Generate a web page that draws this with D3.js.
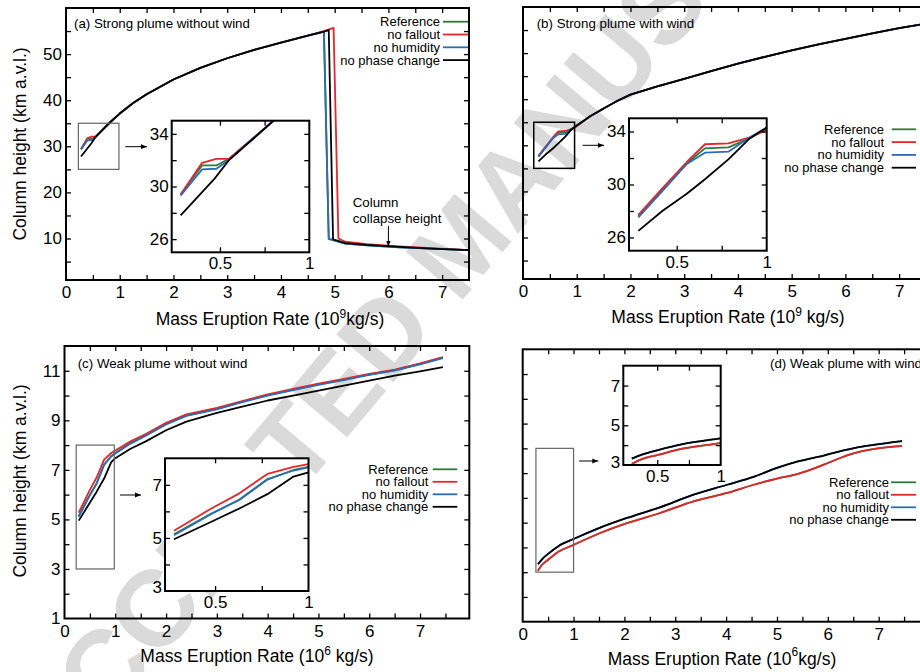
<!DOCTYPE html>
<html><head><meta charset="utf-8">
<script src="https://cdn.jsdelivr.net/npm/d3@7"></script>
<style>
html,body{margin:0;padding:0;background:#fff;}
svg{display:block;}
text{font-family:'Liberation Sans',Arial,Helvetica,sans-serif;}
</style></head><body>
<svg id="chart" width="920" height="672"></svg>
<script>
// ---------------- DATA ----------------
const seriesNames = ["Reference", "no fallout", "no humidity", "no phase change"];
const seriesColors = ["#2b7a3b", "#e5262b", "#2c6cb6", "#000000"];

// (a) Strong plume without wind  (MER 10^9 kg/s, height km)
const aRefX = [0.28,0.40,0.48,0.55,0.80,1.0,1.25,1.5,2.0,2.5,3.0,3.5,4.0,4.5,4.80,4.89,5.2,5.6,6.2,6.8,7.5];
const aRefY = [29.4,31.6,31.6,32.1,35.0,37.1,39.4,41.3,44.5,47.0,49.1,50.9,52.5,54.0,54.9,9.9,8.9,8.5,8.1,7.8,7.5];
const aFalX = [0.28,0.40,0.48,0.55,0.80,1.0,1.25,1.5,2.0,2.5,3.0,3.5,4.0,4.5,4.80,4.98,5.07,5.2,5.6,6.2,6.8,7.5];
const aFalY = [29.4,31.8,32.1,32.1,35.0,37.1,39.4,41.3,44.5,47.0,49.1,50.9,52.5,54.0,55.0,55.7,10.0,9.3,8.8,8.3,7.9,7.5];
const aHumX = [0.28,0.40,0.48,0.55,0.80,1.0,1.25,1.5,2.0,2.5,3.0,3.5,4.0,4.5,4.80,4.89,5.2,5.6,6.2,6.8,7.5];
const aHumY = [29.3,31.3,31.35,32.0,35.0,37.1,39.4,41.3,44.5,47.0,49.1,50.9,52.5,54.0,54.9,9.9,8.9,8.5,8.1,7.8,7.5];
const aPhsX = [0.28,0.47,0.55,0.80,1.0,1.25,1.5,2.0,2.5,3.0,3.5,4.0,4.5,4.80,4.89,4.97,5.2,5.6,6.2,6.8,7.5];
const aPhsY = [27.8,30.6,32.0,35.0,37.1,39.4,41.3,44.5,47.0,49.1,50.9,52.5,54.0,54.9,55.2,9.8,9.0,8.6,8.2,7.8,7.5];

// (b) Strong plume with wind
const bX    = [0.287,0.42,0.556,0.657,0.787,0.907,1.0,1.25,1.5,1.75,2.0,2.5,3.0,3.5,4.0,4.5,5.0,5.5,6.0,6.5,7.0,7.5];
const bRefY = [27.6,29.6,31.6,32.73,32.8,33.5,34.25,36.3,38.0,39.6,41.0,42.8,44.4,46.1,47.7,49.2,50.6,51.9,53.1,54.3,55.4,56.4];
const bFalY = [27.7,29.7,31.7,33.04,33.1,33.56,34.1,36.3,38.0,39.6,41.0,42.8,44.4,46.1,47.7,49.2,50.6,51.9,53.1,54.3,55.4,56.4];
const bHumY = [27.52,29.5,31.55,32.4,32.48,33.56,34.3,36.3,38.0,39.6,41.0,42.8,44.4,46.1,47.7,49.2,50.6,51.9,53.1,54.3,55.4,56.4];
const bPhsY = [26.5,28.0,29.3,30.4,31.9,33.5,34.3,36.3,38.0,39.6,41.0,42.8,44.4,46.1,47.7,49.2,50.6,51.9,53.1,54.3,55.4,56.4];

// (c) Weak plume without wind  (MER 10^6 kg/s)
const cX    = [0.28,0.48,0.63,0.78,0.92,1.0,1.3,1.6,2.0,2.4,3.0,3.5,4.0,4.5,5.0,5.5,6.0,6.5,7.0,7.45];
const cRefY = [5.14,5.92,6.43,7.2,7.56,7.68,8.08,8.4,8.85,9.2,9.46,9.75,10.02,10.24,10.45,10.64,10.85,11.03,11.28,11.53];
const cFalY = [5.27,6.11,6.68,7.41,7.68,7.78,8.15,8.45,8.9,9.24,9.5,9.78,10.05,10.27,10.48,10.67,10.87,11.05,11.3,11.55];
const cHumY = [5.10,5.90,6.45,7.22,7.54,7.66,8.06,8.38,8.83,9.18,9.44,9.73,10.0,10.22,10.43,10.62,10.83,11.01,11.26,11.51];
const cPhsY = [4.95,5.61,6.11,6.65,7.31,7.47,7.85,8.15,8.6,8.95,9.3,9.55,9.8,10.0,10.2,10.4,10.6,10.8,10.98,11.15];

// (d) Weak plume with wind
const dX    = [0.3,0.38,0.5,0.7,1.0,1.5,2.05,2.7,3.36,4.02,4.54,5.0,5.43,5.92,6.38,7.46];
const dRefY = [3.06,3.3,3.5,3.82,4.1,4.56,4.98,5.39,5.86,6.2,6.53,6.78,6.98,7.34,7.72,8.1];
const dFalY = [3.06,3.3,3.5,3.82,4.1,4.56,4.98,5.39,5.86,6.2,6.53,6.78,6.98,7.34,7.72,8.1];
const dHumY = [3.32,3.52,3.74,4.05,4.34,4.78,5.19,5.62,6.13,6.53,6.85,7.21,7.48,7.71,7.95,8.29];
const dPhsY = [3.32,3.52,3.74,4.05,4.34,4.78,5.19,5.62,6.13,6.53,6.85,7.21,7.48,7.71,7.95,8.29];

// tick values / labels
const strongXTicks = [0,0.5,1,1.5,2,2.5,3,3.5,4,4.5,5,5.5,6,6.5,7];
const weakXTicks   = [0,0.5,1,1.5,2,2.5,3,3.5,4,4.5,5,5.5,6,6.5,7,7.5];
const xTickLabels  = [0,1,2,3,4,5,6,7];
const strongYTicks = [5,10,15,20,25,30,35,40,45,50,55];
const strongYLabels = [10,20,30,40,50];
const weakYTicks   = [2,3,4,5,6,7,8,9,10,11];
const weakYLabels  = [1,3,5,7,9,11];
const insetXTicks  = [0.5,0.75,1];
const insetXLabels = [0.5,1];
const strongInsetYTicks = [26,28,30,32,34];
const strongInsetYLabels = [26,30,34];
const weakInsetYTicks = [3,4,5,6,7];
const weakInsetYLabels = [3,5,7];

// ---------------- DRAWING ----------------
const svg = d3.select('#chart');
const defs = svg.append('defs');
defs.append('marker').attr('id','arr').attr('viewBox','0 0 10 10').attr('refX',10).attr('refY',5)
  .attr('markerWidth',6).attr('markerHeight',6).attr('markerUnits','userSpaceOnUse').attr('orient','auto')
  .append('path').attr('d','M0,1 L10,5 L0,9 Z').attr('fill','#000');

// watermark
svg.append('text').attr('x',57).attr('y',783)
  .attr('transform','rotate(-50,57,783)')
  .attr('font-size',108).attr('font-weight','bold').attr('fill','#dadada')
  .text('ACCEPTED MANUSCRIPT');

function zip(xs, ys){ return xs.map((v,i)=>[v, ys[i]]); }
const fmt = d => (d===0.5? "0.5" : String(d));
let clipId = 0;

function drawAxes(g, x, y, f, o){
  const fs = o.fs || 17;
  const bottom = d3.axisBottom(x).tickValues(o.xTicks).tickSizeInner(-5).tickSizeOuter(0)
    .tickPadding(o.xPad).tickFormat(d => o.xLabels.includes(d) ? fmt(d) : "");
  const left = d3.axisLeft(y).tickValues(o.yTicks.concat(o.yLabels.filter(v=>!o.yTicks.includes(v))))
    .tickSizeInner(-5).tickSizeOuter(0).tickPadding(o.yPad)
    .tickFormat(d => o.yLabels.includes(d) ? fmt(d) : "");
  const top = d3.axisTop(x).tickValues(o.xTicks).tickSizeInner(-5).tickSizeOuter(0).tickFormat("");
  const right = d3.axisRight(y).tickValues(o.yTicks).tickSizeInner(-5).tickSizeOuter(0).tickFormat("");
  const gb = g.append('g').attr('transform',`translate(0,${f.y1})`).call(bottom);
  const gl = g.append('g').attr('transform',`translate(${f.x0},0)`).call(left);
  const gt = g.append('g').attr('transform',`translate(0,${f.y0})`).call(top);
  const gr = g.append('g').attr('transform',`translate(${f.x1},0)`).call(right);
  [gb,gl,gt,gr].forEach(a=>{
    a.select('.domain').remove();
    a.selectAll('line').attr('stroke','#000').attr('stroke-width',1.3);
    a.selectAll('text').attr('font-size',fs).attr('fill','#000')
      .attr('font-family',"'Liberation Sans',Arial,Helvetica,sans-serif");
  });
  if (o.yBottomNudge) {
    gl.selectAll('.tick').filter(d => d === y.domain()[0]).select('text').attr('dy', o.yBottomNudge);
  }
  [gb,gt].forEach(a=>a.selectAll('.tick').filter(d=>d<=x.domain()[0]+1e-9||d>=x.domain()[1]-1e-9).select('line').remove());
  [gl,gr].forEach(a=>a.selectAll('.tick').filter(d=>d<=y.domain()[0]+1e-9||d>=y.domain()[1]-1e-9).select('line').remove());
}

function drawSeries(g, x, y, series, curve, f){
  const id = 'clip' + (clipId++);
  defs.append('clipPath').attr('id',id).append('rect')
    .attr('x',f.x0).attr('y',f.y0).attr('width',f.x1-f.x0).attr('height',f.y1-f.y0);
  const line = d3.line().x(d=>x(d[0])).y(d=>y(d[1])).curve(curve);
  const cg = g.append('g').attr('clip-path',`url(#${id})`);
  series.forEach((s,i)=>{
    cg.append('path').attr('d', line(s)).attr('fill','none')
      .attr('stroke', seriesColors[i]).attr('stroke-width',1.8).attr('stroke-linejoin','round');
  });
}

function drawPanel(p){
  const g = svg.append('g');
  const f = p.frame;
  const x = d3.scaleLinear().domain(p.xDom).range([f.x0, f.x1]);
  const y = d3.scaleLinear().domain(p.yDom).range([f.y1, f.y0]);
  drawSeries(g, x, y, p.series, p.curve, f);
  g.append('rect').attr('x',x(p.box[0])).attr('y',y(p.box[3]))
    .attr('width',x(p.box[1])-x(p.box[0])).attr('height',y(p.box[2])-y(p.box[3]))
    .attr('fill','none').attr('stroke',p.boxColor).attr('stroke-width',p.boxWidth);
  g.append('line').attr('x1',p.arrow[0]).attr('y1',p.arrow[1]).attr('x2',p.arrow[2]).attr('y2',p.arrow[1])
    .attr('stroke','#000').attr('stroke-width',1).attr('marker-end','url(#arr)');
  drawAxes(g, x, y, f, {xTicks:p.xTicks, xLabels:xTickLabels, yTicks:p.yTicks, yLabels:p.yLabels, xPad:6, yPad:4});
  g.append('rect').attr('x',f.x0).attr('y',f.y0).attr('width',f.x1-f.x0).attr('height',f.y1-f.y0)
    .attr('fill','none').attr('stroke','#000').attr('stroke-width',2);
  g.append('text').attr('x',p.title[1]).attr('y',p.title[2]).attr('font-size',13.3).text(p.title[0]);
  const xt = g.append('text').attr('x',p.xTitle[0]).attr('y',p.xTitle[1]).attr('text-anchor','middle').attr('font-size',17.5);
  xt.append('tspan').text('Mass Eruption Rate (10');
  xt.append('tspan').attr('font-size',12).attr('dy',p.supDy).text(p.exp);
  xt.append('tspan').attr('dy',-p.supDy).text(p.unitText);
  if (p.yTitle) {
    g.append('text').attr('transform',`translate(${p.yTitle[0]},${p.yTitle[1]}) rotate(-90)`)
      .attr('text-anchor','middle').attr('font-size',17.5).text('Column height (km a.v.l.)');
  }
  const L = p.legend;
  seriesNames.forEach((n,i)=>{
    const cy = L.y0 + i*L.dy;
    g.append('text').attr('x',L.tx).attr('y',cy+4.5).attr('text-anchor','end').attr('font-size',13).text(n);
    g.append('line').attr('x1',L.lx0).attr('x2',L.lx1).attr('y1',cy).attr('y2',cy)
      .attr('stroke',seriesColors[i]).attr('stroke-width',1.8);
  });
  const I = p.inset;
  const fi = I.frame;
  const xi = d3.scaleLinear().domain(I.xDom).range([fi.x0, fi.x1]);
  const yi = d3.scaleLinear().domain(I.yDom).range([fi.y1, fi.y0]);
  g.append('rect').attr('x',fi.x0).attr('y',fi.y0).attr('width',fi.x1-fi.x0).attr('height',fi.y1-fi.y0).attr('fill','#fff');
  drawSeries(g, xi, yi, p.series, p.curve, fi);
  drawAxes(g, xi, yi, fi, {xTicks:insetXTicks, xLabels:insetXLabels, yTicks:I.yTicks, yLabels:I.yLabels, xPad:5, yPad:3, yBottomNudge:I.nudge});
  g.append('rect').attr('x',fi.x0).attr('y',fi.y0).attr('width',fi.x1-fi.x0).attr('height',fi.y1-fi.y0)
    .attr('fill','none').attr('stroke','#000').attr('stroke-width',2);
  return {g,x,y};
}

// (a)
const pa = drawPanel({
  frame:{x0:66,x1:469,y0:8,y1:280}, xDom:[0,7.5], yDom:[1,60],
  series:[zip(aRefX,aRefY), zip(aFalX,aFalY), zip(aHumX,aHumY), zip(aPhsX,aPhsY)],
  curve:d3.curveLinear, xTicks:strongXTicks, yTicks:strongYTicks, yLabels:strongYLabels,
  box:[0.23,0.985,25,35], boxColor:'#666', boxWidth:1.2, arrow:[125.3,146.7,147],
  title:['(a) Strong plume without wind',74,28], xTitle:[270,325], exp:'9', unitText:'kg/s)', supDy:-7,
  yTitle:[26,144],
  legend:{tx:440,lx0:443,lx1:468,y0:21.7,dy:12.8},
  inset:{frame:{x0:171.7,x1:309.3,y0:120.7,y1:252.3}, xDom:[0.23,1], yDom:[25,35],
         yTicks:strongInsetYTicks, yLabels:strongInsetYLabels}
});
pa.g.append('text').attr('x',352.7).attr('y',207).attr('font-size',13.3).text('Column');
pa.g.append('text').attr('x',352.7).attr('y',223).attr('font-size',13.3).text('collapse height');
pa.g.append('line').attr('x1',pa.x(6)).attr('x2',pa.x(6)).attr('y1',226).attr('y2',246.5)
  .attr('stroke','#000').attr('stroke-width',1).attr('marker-end','url(#arr)');

// (b)
drawPanel({
  frame:{x0:523,x1:926,y0:7,y1:279}, xDom:[0,7.5], yDom:[1,60],
  series:[zip(bX,bRefY), zip(bX,bFalY), zip(bX,bHumY), zip(bX,bPhsY)],
  curve:d3.curveLinear, xTicks:strongXTicks, yTicks:strongYTicks, yLabels:[],
  box:[0.2,0.96,25,35], boxColor:'#000', boxWidth:1.5, arrow:[582.7,145.3,604],
  title:['(b) Strong plume with wind',536.7,28], xTitle:[728,322.5], exp:'9', unitText:' kg/s)', supDy:-7,
  legend:{tx:884,lx0:891.7,lx1:916,y0:129.3,dy:12.8},
  inset:{frame:{x0:629,x1:766.7,y0:118.3,y1:250.7}, xDom:[0.235,1], yDom:[25,35],
         yTicks:strongInsetYTicks, yLabels:strongInsetYLabels}
});

// (c)
drawPanel({
  frame:{x0:64.5,x1:469.3,y0:346,y1:618.5}, xDom:[0,7.97], yDom:[1,12],
  series:[zip(cX,cRefY), zip(cX,cFalY), zip(cX,cHumY), zip(cX,cPhsY)],
  curve:d3.curveLinear, xTicks:weakXTicks, yTicks:weakYTicks, yLabels:weakYLabels,
  box:[0.23,0.98,3,8], boxColor:'#666', boxWidth:1.2, arrow:[120,495,141],
  title:['(c) Weak plume without wind',77.7,368], xTitle:[257,662], exp:'6', unitText:' kg/s)', supDy:-7,
  yTitle:[26,481],
  legend:{tx:428.3,lx0:432.7,lx1:457.3,y0:469.3,dy:12.5},
  inset:{frame:{x0:165,x1:308.5,y0:458.3,y1:591}, xDom:[0.232,1], yDom:[3,8],
         yTicks:weakInsetYTicks, yLabels:weakInsetYLabels, nudge:'0.1em'}
});

// (d)
drawPanel({
  frame:{x0:522.7,x1:928,y0:349.3,y1:621.7}, xDom:[0,7.97], yDom:[1,12],
  series:[zip(dX,dRefY), zip(dX,dFalY), zip(dX,dHumY), zip(dX,dPhsY)],
  curve:d3.curveMonotoneX, xTicks:weakXTicks, yTicks:weakYTicks, yLabels:[],
  box:[0.26,1.0,3,8], boxColor:'#666', boxWidth:1.2, arrow:[579,461,598.3],
  title:['(d) Weak plume with wind',770,368], xTitle:[722,665], exp:'6', unitText:'kg/s)', supDy:-9,
  legend:{tx:889,lx0:891,lx1:916,y0:482.3,dy:12.5},
  inset:{frame:{x0:623.3,x1:720.7,y0:365.7,y1:465}, xDom:[0.233,1], yDom:[3,8],
         yTicks:weakInsetYTicks, yLabels:weakInsetYLabels, nudge:'0.15em'}
});
</script>
</body></html>
